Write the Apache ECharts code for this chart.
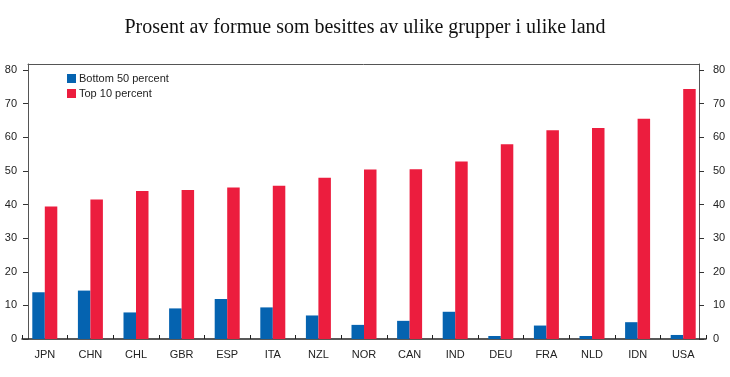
<!DOCTYPE html>
<html>
<head>
<meta charset="utf-8">
<script src="https://cdn.jsdelivr.net/npm/echarts@6/dist/echarts.min.js"></script>
<style>
html, body { margin: 0; padding: 0; background: #fff; }
#showChart { width: 730px; height: 377px; }
</style>
</head>
<body>
<div id="showChart"></div>
<script>
var countries = ['JPN', 'CHN', 'CHL', 'GBR', 'ESP', 'ITA', 'NZL', 'NOR', 'CAN', 'IND', 'DEU', 'FRA', 'NLD', 'IDN', 'USA'];
var bottom50 = [13.9, 14.4, 7.9, 9.1, 11.9, 9.4, 7.0, 4.2, 5.4, 8.1, 0.9, 4.0, 0.9, 5.0, 1.2];
var top10 = [39.4, 41.5, 44.0, 44.3, 45.1, 45.6, 48.0, 50.4, 50.5, 52.8, 57.9, 62.1, 62.8, 65.5, 74.4];
var yTicks = [0, 10, 20, 30, 40, 50, 60, 70, 80];
var yMax = 81.8;

var myChart = echarts.init(document.getElementById('showChart'));

var labelFont = {
    color: '#222',
    fontSize: 11,
    fontFamily: 'Liberation Sans, Arial, sans-serif'
};

//左右两个刻度轴
function makeYAxis(pos, margin)
{
    return {
        gridIndex: 1,
        type: 'value',
        position: pos,
        min: 0,
        max: yMax,
        axisLine: { show: true, lineStyle: { color: '#555', width: 1 } },
        axisTick: { show: true, length: 5, customValues: yTicks, lineStyle: { color: '#333' } },
        axisLabel: Object.assign({ margin: margin, customValues: yTicks }, labelFont),
        splitLine: { show: false }
    };
}

var option = {
    animation: false,
    backgroundColor: '#fff',
    title: {
        text: 'Prosent av formue som besittes av ulike grupper i ulike land',
        left: 'center',
        top: 13,
        textStyle: {
            fontFamily: 'Liberation Serif, Times New Roman, serif',
            fontWeight: 'normal',
            fontSize: 20,
            color: '#111'
        }
    },
    legend: {
        orient: 'vertical',
        left: 62,
        top: 68,
        itemWidth: 9,
        itemHeight: 9,
        itemGap: 4,
        icon: 'rect',
        textStyle: Object.assign({ padding: [0, 0, 0, -2] }, labelFont),
        data: ['Bottom 50 percent', 'Top 10 percent']
    },
    grid: [
        { left: 22, right: 24, top: 64, bottom: 38 },
        { left: 28, right: 31, top: 64, bottom: 38 }
    ],
    xAxis: [
        {
            gridIndex: 0,
            type: 'category',
            data: countries,
            axisLine: { show: true, lineStyle: { color: '#222', width: 1.5 } },
            axisTick: { show: true, inside: true, length: 4, lineStyle: { color: '#222' } },
            axisLabel: Object.assign({ margin: 10 }, labelFont)
        },
        {
            gridIndex: 1,
            type: 'value',
            position: 'top',
            min: 0,
            max: 1,
            axisLine: { show: true, onZero: false, lineStyle: { color: '#555', width: 1 } },
            axisTick: { show: false },
            axisLabel: { show: false },
            splitLine: { show: false }
        }
    ],
    yAxis: [
        {
            gridIndex: 0,
            type: 'value',
            min: 0,
            max: yMax,
            show: false
        },
        makeYAxis('left', 11),
        makeYAxis('right', 14)
    ],
    series: [
        {
            name: 'Bottom 50 percent',
            type: 'bar',
            xAxisIndex: 0,
            yAxisIndex: 0,
            barWidth: 12.5,
            barGap: 0,
            itemStyle: { color: '#0563b0' },
            data: bottom50
        },
        {
            name: 'Top 10 percent',
            type: 'bar',
            xAxisIndex: 0,
            yAxisIndex: 0,
            barWidth: 12.5,
            barGap: 0,
            itemStyle: { color: '#ec1d3e' },
            data: top10
        }
    ]
};

myChart.setOption(option);
</script>
</body>
</html>
